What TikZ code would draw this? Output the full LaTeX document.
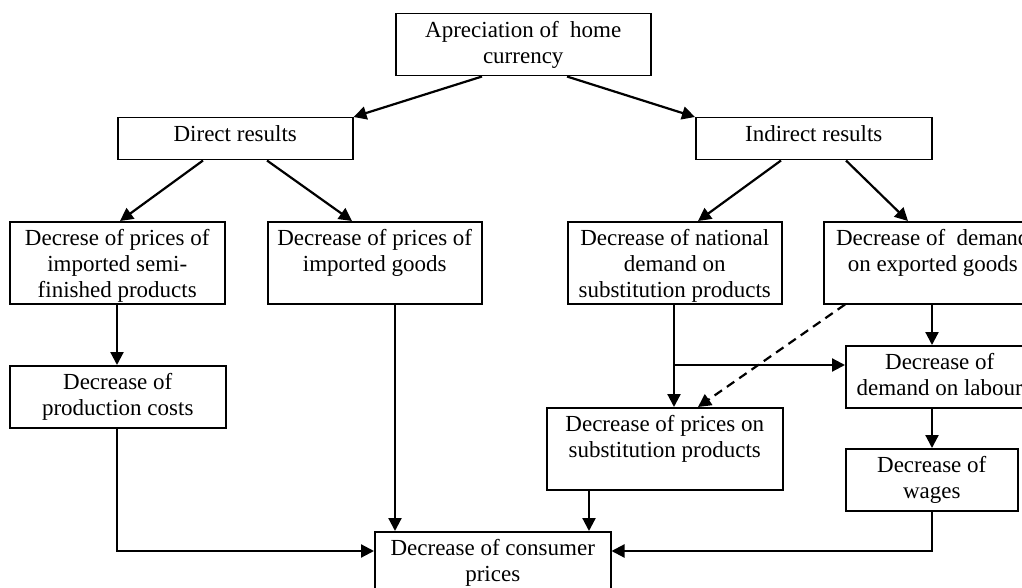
\documentclass[tikz,border=0pt]{standalone}
\usepackage{fontspec}
\setmainfont{Liberation Serif}
\usetikzlibrary{arrows.meta,calc}
\newcommand{\bx}[3]{\parbox[c][#2][t]{#1}{\centering\rule{0pt}{24pt}#3}}
\begin{document}
\begin{tikzpicture}[x=1pt,y=-1pt,
  box/.style={draw, line width=1.5pt, inner sep=0pt, anchor=north west, font=\fontsize{23}{26}\selectfont},
  arr/.style={-{Triangle[length=13pt,width=13pt]}, line width=2.2pt},
  dsh/.style={dash pattern=on 9pt off 6pt}]
\path[use as bounding box, clip] (0,0) rectangle (1022,588);
\fill[white] (0,0) rectangle (1022,588);
\node[box] (top) at (395,13) {\bx{255pt}{62pt}{Apreciation of\ \ home\\currency}};
\node[box] (dir) at (117,117) {\bx{235pt}{42pt}{Direct results}};
\node[box] (ind) at (695,117) {\bx{236pt}{42pt}{Indirect results}};
\node[box] (semi) at (9,221) {\bx{215pt}{82pt}{Decrese of prices of\\imported semi-\\finished products}};
\node[box] (imp) at (267,221) {\bx{214pt}{82pt}{Decrease of prices of\\imported goods}};
\node[box] (nat) at (567,221) {\bx{214pt}{82pt}{Decrease of national\\demand on\\substitution products}};
\node[box] (exp) at (823,221) {\bx{218pt}{82pt}{Decrease of\ \ demand\\on exported goods}};
\node[box] (prod) at (9,365) {\bx{216pt}{62pt}{Decrease of\\production costs}};
\node[box] (lab) at (845,345) {\bx{188pt}{62pt}{Decrease of\\demand on labour}};
\node[box] (sub) at (546,407) {\bx{236pt}{82pt}{Decrease of prices on\\substitution products}};
\node[box] (wag) at (845,448) {\bx{172pt}{62pt}{Decrease of\\wages}};
\node[box] (cons) at (374,531) {\bx{236pt}{62pt}{Decrease of consumer\\prices}};
\draw[arr] ([xshift=87pt]top.south west) -- (dir.north east);
\draw[arr] ([xshift=172pt]top.south west) -- (ind.north west);
\draw[arr] ([xshift=86pt]dir.south west) -- ([xshift=111pt]semi.north west);
\draw[arr] ([xshift=150pt]dir.south west) -- ([xshift=85pt]imp.north west);
\draw[arr] ([xshift=86pt]ind.south west) -- ([xshift=131pt]nat.north west);
\draw[arr] ([xshift=151pt]ind.south west) -- ([xshift=85pt]exp.north west);
\draw[arr] ([xshift=108pt]semi.south west) -- ([xshift=108pt]prod.north west);
\draw[arr] ([xshift=128pt]imp.south west) -- ([xshift=21pt]cons.north west);
\draw[arr] ([xshift=107pt]nat.south west) -- ([xshift=128pt]sub.north west);
\coordinate (br) at (674,365);
\draw[arr] (br) -- (lab.west |- br);
\draw[arr,dsh] ([xshift=22pt]exp.south west) -- ([xshift=152pt]sub.north west);
\draw[arr] ([xshift=109pt]exp.south west) -- ([xshift=87pt]lab.north west);
\draw[arr] ([xshift=87pt]lab.south west) -- ([xshift=87pt]wag.north west);
\draw[arr] ([xshift=87pt]wag.south west) |- ([yshift=-20pt]cons.north east);
\draw[arr] ([xshift=108pt]prod.south west) |- ([yshift=-20pt]cons.north west);
\draw[arr] ([xshift=43pt]sub.south west) -- ([xshift=215pt]cons.north west);
\end{tikzpicture}
\end{document}
